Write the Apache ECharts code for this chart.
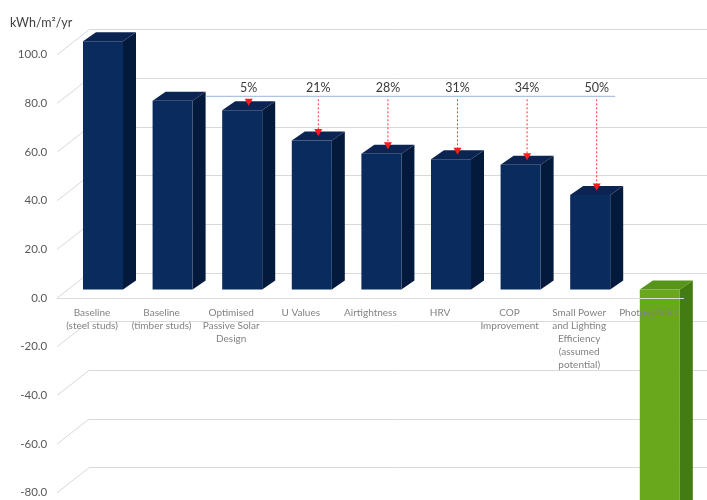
<!DOCTYPE html>
<html>
<head>
<meta charset="utf-8">
<title>Energy use by design measure</title>
<script src="https://cdn.jsdelivr.net/npm/echarts@6/dist/echarts.min.js"></script>
<style>
  html, body { margin: 0; padding: 0; background: #ffffff; }
  #chart { width: 707px; height: 500px; }
</style>
</head>
<body>
<div id="chart"></div>
<script>
// Categories along the floor of the chart
const categories = [
  'Baseline\n(steel studs)',
  'Baseline\n(timber studs)',
  'Optimised\nPassive Solar\nDesign',
  'U Values',
  'Airtightness',
  'HRV',
  'COP\nImprovement',
  'Small Power\nand Lighting\nEfficiency\n(assumed\npotential)',
  'Photovoltaics'
];

// Annual energy use, kWh/m²/yr
const energyUse = [102.0, 77.5, 73.6, 61.2, 55.8, 53.5, 51.2, 38.8, -95.0];

// Savings are measured against the timber-stud baseline
const referenceIndex = 1;
const savingIndices = [2, 3, 4, 5, 6, 7];

// Value axis range and step
const axisMin = -100;
const axisMax = 100;
const axisStep = 20;

// Pseudo-3D geometry (pixels)
const BAR_SHIFT_X = 11, BAR_SHIFT_Y = -8.6;   // bars sit part way back on the floor
const BAR_DX = 13, BAR_DY = -9;               // bar depth
const WALL_DX = 32, WALL_DY = -25;            // back wall offset

const navy = { front: '#0a2b5e', top: '#0b2452', side: '#041a3d' };
const green = { front: '#69a81c', top: '#57941a', side: '#427c12' };
const FONT = 'Lato, "Open Sans", sans-serif';

const chart = echarts.init(document.getElementById('chart'), null, { renderer: 'canvas' });

const refValue = energyUse[referenceIndex];
const barData = energyUse.map((v, i) => [i, v]);
const labelData = categories.map((c, i) => [i, 0]);
const savingData = savingIndices.map(i => [i, energyUse[i]]);
const tickValues = [];
for (let v = axisMin; v <= axisMax; v += axisStep) tickValues.push([0, v]);

function renderBar(params, api) {
  const i = api.value(0), v = api.value(1);
  const band = api.size([1, 0])[0];
  const half = band * 0.2875;
  const zero = api.coord([i, 0]);
  const end = api.coord([i, v]);
  const cx = zero[0] + BAR_SHIFT_X;
  const yA = Math.min(zero[1], end[1]) + BAR_SHIFT_Y;
  const yB = Math.max(zero[1], end[1]) + BAR_SHIFT_Y;
  const x0 = cx - half, x1 = cx + half;
  const pal = v >= 0 ? navy : green;
  return {
    type: 'group',
    children: [
      { type: 'polygon', shape: { points: [[x1, yA], [x1 + BAR_DX, yA + BAR_DY], [x1 + BAR_DX, yB + BAR_DY], [x1, yB]] }, style: { fill: pal.side } },
      { type: 'polygon', shape: { points: [[x0, yA], [x1, yA], [x1 + BAR_DX, yA + BAR_DY], [x0 + BAR_DX, yA + BAR_DY]] }, style: { fill: pal.top } },
      { type: 'rect', shape: { x: x0, y: yA, width: x1 - x0, height: yB - yA }, style: { fill: pal.front } }
    ]
  };
}

// Category names sit just in front of the floor edge
function renderCategoryLabel(params, api) {
  const i = api.value(0);
  const p = api.coord([i, 0]);
  return {
    type: 'text',
    x: p[0],
    y: p[1] + 8,
    style: {
      text: categories[i],
      fill: '#828282',
      font: '10px ' + FONT,
      lineHeight: 13,
      align: 'center',
      verticalAlign: 'top'
    }
  };
}

function renderSideWall(params, api) {
  const v = api.value(1);
  const band = api.size([1, 0])[0];
  const p = api.coord([0, v]);
  const left = p[0] - band / 2;
  return {
    type: 'line',
    shape: { x1: left, y1: p[1], x2: left + WALL_DX, y2: p[1] + WALL_DY },
    style: { stroke: '#d9d9d9', lineWidth: 1 }
  };
}

function renderReferenceLine(params, api) {
  const band = api.size([1, 0])[0];
  const half = band * 0.2875;
  const a = api.coord([referenceIndex, refValue]);
  const b = api.coord([savingIndices[savingIndices.length - 1], refValue]);
  const y = a[1] + BAR_SHIFT_Y + BAR_DY / 2;
  return {
    type: 'line',
    shape: { x1: a[0] + BAR_SHIFT_X + half + BAR_DX, y1: y, x2: b[0] + BAR_SHIFT_X + 25, y2: y },
    style: { stroke: '#aec3e3', lineWidth: 1.2 }
  };
}

function renderSaving(params, api) {
  const i = api.value(0), v = api.value(1);
  const ref = api.coord([i, refValue]);
  const end = api.coord([i, v]);
  const x = ref[0] + BAR_SHIFT_X + BAR_DX / 2;
  const lineY = ref[1] + BAR_SHIFT_Y + BAR_DY / 2;
  const tipY = end[1] + BAR_SHIFT_Y + BAR_DY / 2;
  const pct = Math.round((1 - v / refValue) * 100) + '%';
  return {
    type: 'group',
    children: [
      { type: 'line', shape: { x1: x, y1: lineY + 3, x2: x, y2: tipY - 6 }, style: { stroke: '#ff3030', lineWidth: 1, lineDash: [2, 2] } },
      { type: 'polygon', shape: { points: [[x - 4, tipY - 7], [x + 4, tipY - 7], [x, tipY]] }, style: { fill: '#ff1a1a' } },
      { type: 'text', x: x, y: lineY - 2, style: { text: pct, fill: '#3a3a3a', font: '12.5px ' + FONT, align: 'center', verticalAlign: 'bottom' } }
    ]
  };
}

const option = {
  backgroundColor: '#ffffff',
  animation: false,
  graphic: [
    { type: 'text', left: 10, top: 16, style: { text: 'kWh/m²/yr', fill: '#404040', font: '12.5px ' + FONT } }
  ],
  grid: [
    { left: 57.2, right: 23.4, top: 54.7, bottom: -41.3, containLabel: false, outerBoundsMode: 'none' },
    { left: 57.2 + WALL_DX, right: 23.4 - WALL_DX, top: 54.7 + WALL_DY, bottom: -41.3 - WALL_DY, containLabel: false, outerBoundsMode: 'none' }
  ],
  xAxis: [
    {
      gridIndex: 0,
      type: 'category',
      data: categories,
      z: 5,
      axisLine: { onZero: true, lineStyle: { color: '#dcdcdc', width: 1 } },
      axisTick: { show: false },
      axisLabel: { show: false }
    },
    { gridIndex: 1, type: 'category', data: categories, show: false }
  ],
  yAxis: [
    {
      gridIndex: 0,
      type: 'value',
      min: axisMin, max: axisMax, interval: axisStep,
      axisLine: { show: false },
      axisTick: { show: false },
      splitLine: { show: false },
      axisLabel: { margin: 10, color: '#595959', fontFamily: FONT, fontSize: 11.5, formatter: v => v.toFixed(1) }
    },
    {
      gridIndex: 1,
      type: 'value',
      min: axisMin, max: axisMax, interval: axisStep,
      axisLine: { show: false },
      axisTick: { show: false },
      axisLabel: { show: false },
      splitLine: { show: true, lineStyle: { color: '#d9d9d9', width: 1 } }
    }
  ],
  series: [
    { type: 'custom', xAxisIndex: 0, yAxisIndex: 0, z: 1, silent: true, data: tickValues, renderItem: renderSideWall },
    { type: 'custom', xAxisIndex: 0, yAxisIndex: 0, z: 2, data: barData, renderItem: renderBar },
    { type: 'custom', xAxisIndex: 0, yAxisIndex: 0, z: 3, data: [[referenceIndex, refValue]], renderItem: renderReferenceLine },
    { type: 'custom', xAxisIndex: 0, yAxisIndex: 0, z: 4, data: savingData, renderItem: renderSaving },
    { type: 'custom', xAxisIndex: 0, yAxisIndex: 0, z: 6, silent: true, data: labelData, renderItem: renderCategoryLabel }
  ]
};

chart.setOption(option);
</script>
</body>
</html>
